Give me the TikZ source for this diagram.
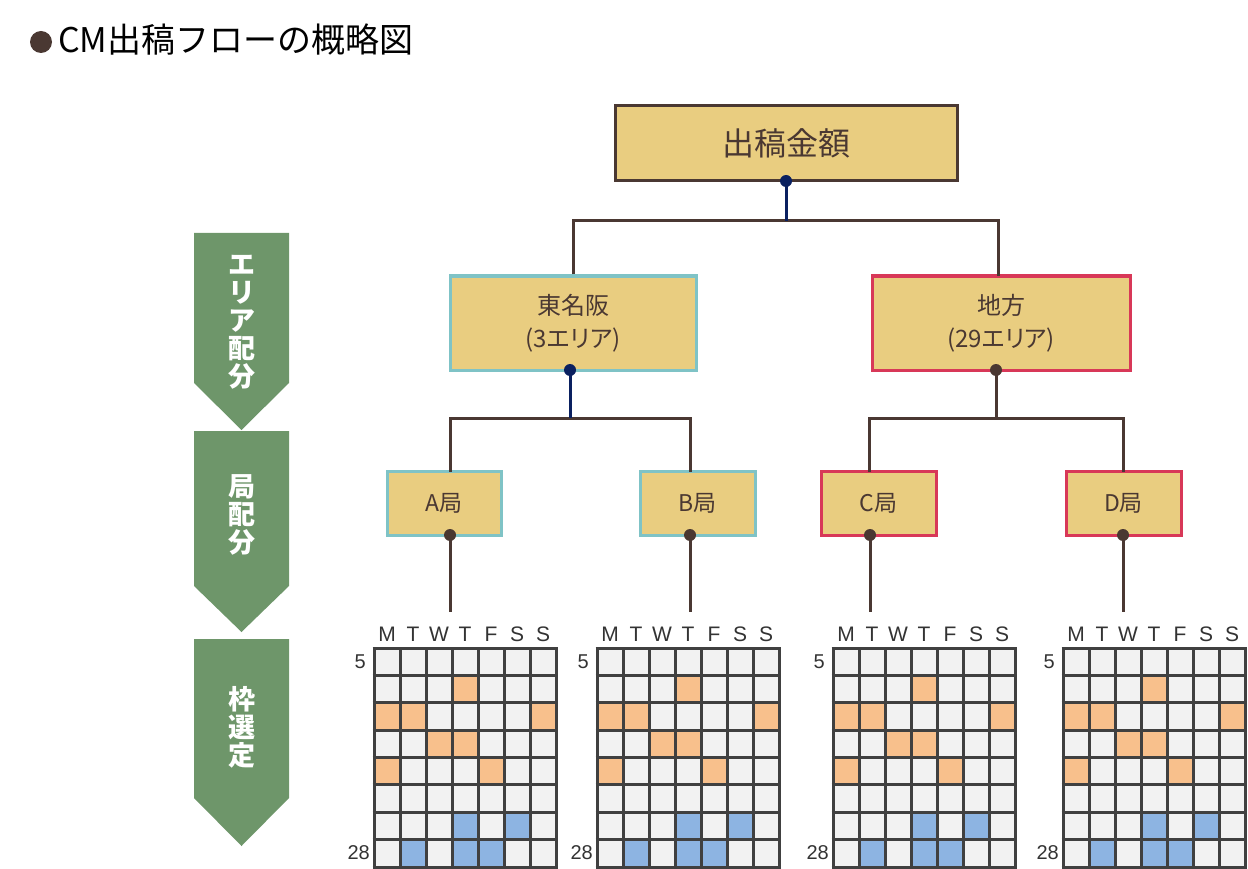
\documentclass[tikz,border=0pt]{standalone}
\usepackage{fontspec}
\usetikzlibrary{calc}
\setmainfont{Noto Sans CJK JP}
\newfontfamily\pfont[RawFeature=+palt]{Noto Sans CJK JP}
\newfontfamily\latf{Liberation Sans}
\definecolor{boxfill}{RGB}{233,205,128}
\definecolor{brownline}{RGB}{74,56,50}
\definecolor{navyline}{RGB}{10,32,96}
\definecolor{tealb}{RGB}{127,195,198}
\definecolor{crimsonb}{RGB}{216,56,88}
\definecolor{greenarr}{RGB}{110,150,106}
\definecolor{cellgray}{RGB}{242,242,242}
\definecolor{gridline}{RGB}{64,64,64}
\definecolor{cellorange}{RGB}{248,192,140}
\definecolor{cellblue}{RGB}{141,180,226}
\tikzset{
  tbox/.style={draw=#1, fill=boxfill, line width=3pt, rectangle, inner sep=0pt,
     text=brownline, align=center},
  conn/.style={draw=brownline, line width=3pt},
  nconn/.style={draw=navyline, line width=3pt},
  bdot/.style={fill=brownline},
  ndot/.style={fill=navyline},
  steplabel/.style={text=white, font=\fontsize{27}{28}\selectfont\bfseries, align=center, inner sep=0pt},
  daylabel/.style={font=\latf\fontsize{21}{22}\selectfont, text=black!80, inner sep=0pt},
  rowlabel/.style={font=\latf\fontsize{20}{22}\selectfont, text=black!80, inner sep=0pt, anchor=east},
}
\begin{document}
\begin{tikzpicture}[x=1pt,y=-1pt]
\useasboundingbox (0,0) rectangle (1248,869);
% title
\fill[brownline] (41,42) circle (11);
\node[anchor=west, inner sep=0pt, font=\fontsize{34}{40}\selectfont] (title) at (58,40) {CM出稿フローの概略図};
% green step arrows
\fill[greenarr] (194,233) -- (289,233) -- (289,383) -- (241.5,430) -- (194,383) -- cycle;
\fill[greenarr] (194,431) -- (289,431) -- (289,586) -- (241.5,632) -- (194,586) -- cycle;
\fill[greenarr] (194,639) -- (289,639) -- (289,798) -- (241.5,846) -- (194,798) -- cycle;
\node[steplabel] (s1) at (241.5,322) {エ\\リ\\ア\\配\\分};
\node[steplabel] (s2) at (241.5,515) {局\\配\\分};
\node[steplabel] (s3) at (241.5,727) {枠\\選\\定};
% boxes
\node[tbox=brownline, minimum width=342pt, minimum height=75pt, font=\fontsize{32}{36}\selectfont] (top) at (786,143.5) {出稿金額};
\node[tbox=tealb, minimum width=246pt, minimum height=94pt, font=\pfont\fontsize{24}{33}\selectfont] (tmo) at (573,323) {東名阪\\(3エリア)};
\node[tbox=crimsonb, minimum width=258pt, minimum height=94pt, font=\pfont\fontsize{24}{33}\selectfont] (chiho) at (1001,323) {地方\\(29エリア)};
\node[tbox=tealb, minimum width=114pt, minimum height=64pt, font=\pfont\fontsize{23}{28}\selectfont] (A) at (444,503) {A局};
\node[tbox=tealb, minimum width=115pt, minimum height=64pt, font=\pfont\fontsize{23}{28}\selectfont] (B) at (697.5,503) {B局};
\node[tbox=crimsonb, minimum width=115pt, minimum height=64pt, font=\pfont\fontsize{23}{28}\selectfont] (C) at (878.5,503) {C局};
\node[tbox=crimsonb, minimum width=115pt, minimum height=64pt, font=\pfont\fontsize{23}{28}\selectfont] (D) at (1123.5,503) {D局};
% junction coordinates
\coordinate (j1) at (786,221);
\coordinate (j2) at (570,418);
\coordinate (j3) at (996,418);
\coordinate (td) at (786,181);
\coordinate (tmod) at (570,370);
\coordinate (chd) at (996,370);
\coordinate (Ad) at (450,535);
\coordinate (Bd) at (690,535);
\coordinate (Cd) at (870,535);
\coordinate (Dd) at (1123,535);
% connectors level 1
\draw[conn] (tmo.north) -- (tmo.north |- j1) -- (998,221) -- (998,276.5);
\draw[nconn] (td) -- (j1);
\fill[ndot] (td) circle (6);
% connectors level 2
\draw[conn] (450,471.5) -- (450,418) -- (690,418) -- (690,471.5);
\draw[nconn] (tmod) -- (j2);
\fill[ndot] (tmod) circle (6);
\draw[conn] (869,472) -- (869,418) -- (1123,418) -- (1123,472);
\draw[conn] (chd) -- (j3);
\fill[bdot] (chd) circle (6);
% connectors level 3
\foreach \d in {Ad,Bd,Cd,Dd}{
  \draw[conn] (\d) -- ($(\d)+(0,77)$);
  \fill[bdot] (\d) circle (6);
}
% grids
\def\cw{26}
\def\rh{27.375}
\foreach \gx in {374,597,833,1063}{
  \fill[cellgray] (\gx,648) rectangle ++(182,219);
  \foreach \r/\c in {2/4,3/1,3/2,3/7,4/3,4/4,5/1,5/5}{
    \fill[cellorange] ({\gx+(\c-1)*\cw},{648+(\r-1)*\rh}) rectangle ++(\cw,\rh);
  }
  \foreach \r/\c in {7/4,7/6,8/2,8/4,8/5}{
    \fill[cellblue] ({\gx+(\c-1)*\cw},{648+(\r-1)*\rh}) rectangle ++(\cw,\rh);
  }
  \foreach \i in {0,...,7}{
    \draw[gridline, line width=3pt] ({\gx+\i*\cw},648) -- ++(0,219);
  }
  \foreach \j in {0,...,8}{
    \draw[gridline, line width=3pt] ({\gx-1.5},{648+\j*\rh}) -- ++(185,0);
  }
  \foreach \lab [count=\k] in {M,T,W,T,F,S,S}{
    \node[daylabel] (d\gx-\k) at ({\gx+(\k-0.5)*\cw},634) {\lab};
  }
  \node[rowlabel] (r5-\gx) at ({\gx-8},662) {5};
  \node[rowlabel] (r28-\gx) at ({\gx-4},853) {28};
}
\end{tikzpicture}
\end{document}
